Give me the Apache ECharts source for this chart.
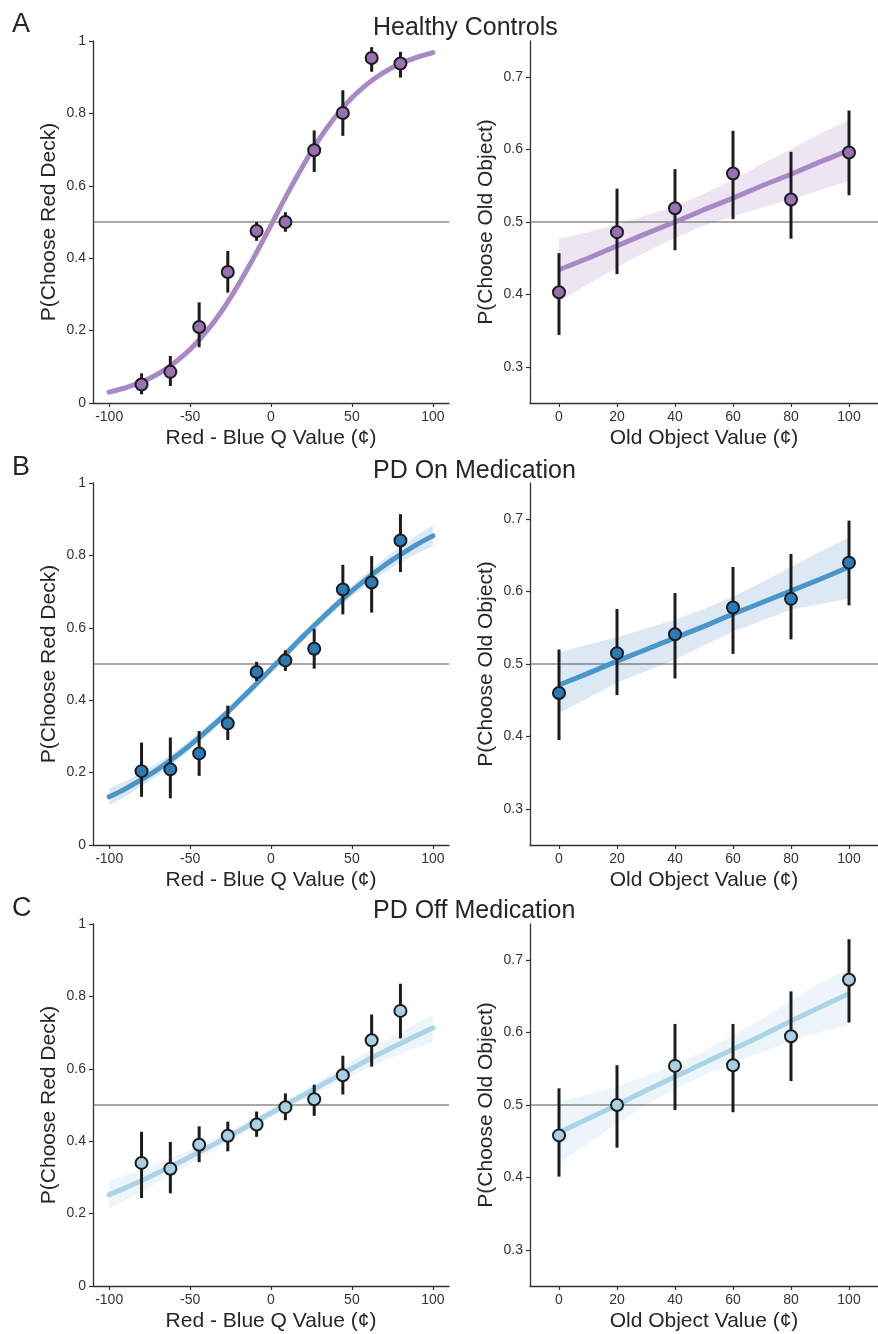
<!DOCTYPE html>
<html>
<head>
<meta charset="utf-8">
<script src="https://cdn.jsdelivr.net/npm/echarts@6/dist/echarts.min.js"></script>
<style>
html,body{margin:0;padding:0;background:#fff;}
#chart{width:878px;height:1334px;}
</style>
</head>
<body>
<div id="chart"></div>
<script>
// ---------- DATA ----------
const qBins = [-80, -62.2, -44.4, -26.7, -8.9, 8.9, 26.7, 44.4, 62.2, 80];
const curveQ = [-100,-90,-80,-70,-60,-50,-40,-30,-20,-10,0,10,20,30,40,50,60,70,80,90,100];
const oldVals = [0, 20, 40, 60, 80, 100];
const lineOld = [0,10,20,30,40,50,60,70,80,90,100];

const qTicks = [-100, -50, 0, 50, 100];
const oldTicks = [0, 20, 40, 60, 80, 100];
const pTicksOld = [0.3, 0.4, 0.5, 0.6, 0.7];
const refLevel = 0.5;

const panelTitles = ['Healthy Controls', 'PD On Medication', 'PD Off Medication'];
const panelLetters = ['A', 'B', 'C'];

// Healthy controls
const hcQMean = [0.051,0.086,0.210,0.362,0.475,0.500,0.698,0.801,0.953,0.938];
const hcQLo   = [0.024,0.047,0.154,0.305,0.448,0.473,0.638,0.738,0.915,0.899];
const hcQHi   = [0.082,0.130,0.278,0.420,0.500,0.527,0.753,0.864,0.983,0.970];
const hcQFit  = [0.030,0.042,0.058,0.080,0.110,0.148,0.197,0.257,0.328,0.407,0.491,0.577,0.657,0.730,0.792,0.843,0.883,0.914,0.938,0.955,0.968];
const hcQBandHi = [0.038,0.050,0.066,0.088,0.118,0.156,0.205,0.265,0.335,0.413,0.497,0.583,0.663,0.737,0.799,0.850,0.890,0.921,0.945,0.962,0.975];
const hcQBandLo = [0.023,0.035,0.051,0.072,0.102,0.140,0.189,0.249,0.321,0.401,0.485,0.571,0.651,0.723,0.785,0.836,0.876,0.907,0.931,0.948,0.961];
const hcOMean = [0.403,0.486,0.519,0.567,0.531,0.596];
const hcOLo   = [0.344,0.428,0.461,0.504,0.477,0.537];
const hcOHi   = [0.457,0.546,0.573,0.626,0.597,0.654];
const hcOFit  = [0.434,0.450,0.467,0.484,0.500,0.517,0.533,0.550,0.566,0.583,0.599];
const hcOBandHi = [0.477,0.486,0.497,0.509,0.522,0.539,0.558,0.580,0.601,0.622,0.641];
const hcOBandLo = [0.391,0.414,0.437,0.459,0.478,0.495,0.508,0.520,0.531,0.544,0.557];

// PD on medication
const onQMean = [0.204,0.209,0.253,0.336,0.478,0.510,0.542,0.706,0.725,0.841];
const onQLo   = [0.133,0.129,0.191,0.290,0.453,0.481,0.487,0.637,0.642,0.754];
const onQHi   = [0.283,0.297,0.315,0.385,0.506,0.538,0.597,0.774,0.798,0.914];
const onQFit  = [0.133,0.155,0.181,0.209,0.241,0.276,0.314,0.354,0.397,0.441,0.486,0.532,0.577,0.620,0.662,0.702,0.738,0.772,0.802,0.830,0.854];
const onQBandHi = [0.157,0.176,0.200,0.226,0.256,0.290,0.327,0.366,0.408,0.451,0.496,0.542,0.588,0.632,0.675,0.717,0.755,0.791,0.824,0.855,0.883];
const onQBandLo = [0.109,0.134,0.162,0.192,0.226,0.262,0.301,0.342,0.386,0.431,0.476,0.522,0.566,0.608,0.649,0.687,0.721,0.753,0.780,0.805,0.825];
const onOMean = [0.460,0.515,0.541,0.578,0.590,0.640];
const onOLo   = [0.395,0.457,0.480,0.514,0.534,0.581];
const onOHi   = [0.520,0.576,0.598,0.634,0.652,0.698];
const onOFit  = [0.471,0.487,0.504,0.520,0.536,0.552,0.569,0.585,0.601,0.617,0.634];
const onOBandHi = [0.516,0.527,0.537,0.549,0.561,0.576,0.593,0.613,0.634,0.655,0.675];
const onOBandLo = [0.432,0.453,0.474,0.490,0.506,0.526,0.545,0.560,0.575,0.583,0.590];

// PD off medication
const offQMean = [0.340,0.324,0.390,0.415,0.446,0.494,0.516,0.582,0.679,0.760];
const offQLo   = [0.243,0.256,0.342,0.372,0.412,0.458,0.470,0.529,0.606,0.684];
const offQHi   = [0.426,0.398,0.441,0.454,0.482,0.532,0.556,0.636,0.750,0.835];
const offQFit  = [0.252,0.271,0.291,0.312,0.334,0.357,0.380,0.404,0.428,0.453,0.478,0.503,0.527,0.552,0.577,0.601,0.625,0.648,0.670,0.692,0.713];
const offQBandHi = [0.290,0.305,0.321,0.338,0.357,0.377,0.397,0.419,0.441,0.465,0.490,0.515,0.540,0.567,0.594,0.621,0.648,0.674,0.700,0.726,0.751];
const offQBandLo = [0.214,0.237,0.261,0.286,0.311,0.337,0.363,0.389,0.415,0.441,0.466,0.491,0.514,0.537,0.560,0.581,0.602,0.622,0.640,0.658,0.675];
const offOMean = [0.458,0.500,0.554,0.555,0.595,0.673];
const offOLo   = [0.401,0.441,0.493,0.490,0.533,0.614];
const offOHi   = [0.523,0.555,0.612,0.612,0.657,0.729];
const offOFit  = [0.462,0.481,0.500,0.520,0.539,0.558,0.577,0.596,0.616,0.635,0.654];
const offOBandHi = [0.505,0.515,0.526,0.540,0.556,0.575,0.596,0.619,0.644,0.669,0.688];
const offOBandLo = [0.419,0.447,0.474,0.500,0.522,0.541,0.558,0.573,0.588,0.601,0.610];

// ---------- STYLE / LAYOUT ----------
const FONT = "'Liberation Sans', Arial, Helvetica, sans-serif";
const TXT = '#262626';
const AX = '#333333';
const rowTops = [41, 483, 924];
const plotH = 362;
const leftX = 93, rightX = 530, plotW = 356;
const qMin = -110, qMax = 110, oMin = -10, oMax = 110;
const pMinOld = 0.25, pMaxOld = 0.75;
const tickFont = 14;
const nameFont = 21;

const groups = [
  {marker:'#9a70b3', line:'#a889c5', band:'#ede5f2',
   qMean:hcQMean, qLo:hcQLo, qHi:hcQHi, qFit:hcQFit, qBHi:hcQBandHi, qBLo:hcQBandLo,
   oMean:hcOMean, oLo:hcOLo, oHi:hcOHi, oFit:hcOFit, oBHi:hcOBandHi, oBLo:hcOBandLo},
  {marker:'#2a7ab8', line:'#4a95c9', band:'#dce9f4',
   qMean:onQMean, qLo:onQLo, qHi:onQHi, qFit:onQFit, qBHi:onQBandHi, qBLo:onQBandLo,
   oMean:onOMean, oLo:onOLo, oHi:onOHi, oFit:onOFit, oBHi:onOBandHi, oBLo:onOBandLo},
  {marker:'#a7d0e5', line:'#abd3e7', band:'#edf5fa',
   qMean:offQMean, qLo:offQLo, qHi:offQHi, qFit:offQFit, qBHi:offQBandHi, qBLo:offQBandLo,
   oMean:offOMean, oLo:offOLo, oHi:offOHi, oFit:offOFit, oBHi:offOBandHi, oBLo:offOBandLo}
];

const grids = [], xAxes = [], yAxes = [], series = [], graphics = [];

function axisBase() {
  return {
    axisLine: {show: true, onZero: false, lineStyle: {color: AX, width: 1.3}},
    axisTick: {show: true, length: 4, lineStyle: {color: AX, width: 1.2}},
    splitLine: {show: false},
    axisLabel: {color: '#333', fontSize: tickFont, fontFamily: FONT},
    nameTextStyle: {color: TXT, fontSize: nameFont, fontFamily: FONT}
  };
}

function bandSeries(idx, xs, lo, hi, color) {
  return {
    type: 'custom', xAxisIndex: idx, yAxisIndex: idx, z: 1, silent: true,
    data: xs.map((x, i) => [x, lo[i], hi[i]]),
    encode: {x: 0, y: [1, 2]},
    renderItem: function (params, api) {
      if (params.dataIndex !== 0) return null;
      const pts = [];
      for (let i = 0; i < xs.length; i++) pts.push(api.coord([xs[i], hi[i]]));
      for (let i = xs.length - 1; i >= 0; i--) pts.push(api.coord([xs[i], lo[i]]));
      return {type: 'polygon', shape: {points: pts}, style: {fill: color}};
    }
  };
}

function errSeries(idx, xs, lo, hi) {
  return {
    type: 'custom', xAxisIndex: idx, yAxisIndex: idx, z: 4, silent: true,
    data: xs.map((x, i) => [x, lo[i], hi[i]]),
    encode: {x: 0, y: [1, 2]},
    renderItem: function (params, api) {
      const a = api.coord([api.value(0), api.value(1)]);
      const b = api.coord([api.value(0), api.value(2)]);
      return {type: 'line', shape: {x1: a[0], y1: a[1], x2: b[0], y2: b[1]},
              style: {stroke: '#1c1c1c', lineWidth: 3}};
    }
  };
}

function refSeries(idx, xmin, xmax) {
  return {
    type: 'line', xAxisIndex: idx, yAxisIndex: idx, z: 2, silent: true,
    data: [[xmin, refLevel], [xmax, refLevel]], showSymbol: false, symbol: 'none',
    lineStyle: {color: '#555', width: 1.2}
  };
}

groups.forEach((g, r) => {
  const top = rowTops[r];
  const li = r * 2, ri = r * 2 + 1;
  grids.push({left: leftX, top: top, width: plotW, height: plotH});
  grids.push({left: rightX, top: top, width: plotW, height: plotH});

  xAxes.push(Object.assign(axisBase(), {
    gridIndex: li, type: 'value', min: qMin, max: qMax,
    name: 'Red - Blue Q Value (\u00a2)', nameLocation: 'middle', nameGap: 25,
    axisTick: {show: true, length: 4, customValues: qTicks, lineStyle: {color: AX, width: 1.2}},
    axisLabel: {color: '#333', fontSize: tickFont, fontFamily: FONT, margin: 7, customValues: qTicks}
  }));
  yAxes.push(Object.assign(axisBase(), {
    gridIndex: li, type: 'value', min: 0, max: 1, interval: 0.2,
    name: 'P(Choose Red Deck)', nameLocation: 'middle', nameGap: 33,
    axisLabel: {color: '#333', fontSize: tickFont, fontFamily: FONT, margin: 7}
  }));
  xAxes.push(Object.assign(axisBase(), {
    gridIndex: ri, type: 'value', min: oMin, max: oMax,
    name: 'Old Object Value (\u00a2)', nameLocation: 'middle', nameGap: 25,
    axisTick: {show: true, length: 4, customValues: oldTicks, lineStyle: {color: AX, width: 1.2}},
    axisLabel: {color: '#333', fontSize: tickFont, fontFamily: FONT, margin: 7, customValues: oldTicks}
  }));
  yAxes.push(Object.assign(axisBase(), {
    gridIndex: ri, type: 'value', min: pMinOld, max: pMaxOld,
    name: 'P(Choose Old Object)', nameLocation: 'middle', nameGap: 33,
    axisTick: {show: true, length: 4, customValues: pTicksOld, lineStyle: {color: AX, width: 1.2}},
    axisLabel: {color: '#333', fontSize: tickFont, fontFamily: FONT, margin: 7, customValues: pTicksOld}
  }));

  series.push(bandSeries(li, curveQ, g.qBLo, g.qBHi, g.band));
  series.push(refSeries(li, qMin, qMax));
  series.push({type: 'line', xAxisIndex: li, yAxisIndex: li, z: 3, silent: true,
    data: curveQ.map((x, i) => [x, g.qFit[i]]), showSymbol: false, symbol: 'none', smooth: 0.3,
    lineStyle: {color: g.line, width: 5, cap: 'round'}});
  series.push(errSeries(li, qBins, g.qLo, g.qHi));
  series.push({type: 'scatter', xAxisIndex: li, yAxisIndex: li, z: 5, silent: true,
    data: qBins.map((x, i) => [x, g.qMean[i]]), symbol: 'circle', symbolSize: 12,
    itemStyle: {color: g.marker, borderColor: '#1c1c1c', borderWidth: 2, opacity: 1}});

  series.push(bandSeries(ri, lineOld, g.oBLo, g.oBHi, g.band));
  series.push(refSeries(ri, oMin, oMax));
  series.push({type: 'line', xAxisIndex: ri, yAxisIndex: ri, z: 3, silent: true,
    data: lineOld.map((x, i) => [x, g.oFit[i]]), showSymbol: false, symbol: 'none',
    lineStyle: {color: g.line, width: 5}});
  series.push(errSeries(ri, oldVals, g.oLo, g.oHi));
  series.push({type: 'scatter', xAxisIndex: ri, yAxisIndex: ri, z: 5, silent: true,
    data: oldVals.map((x, i) => [x, g.oMean[i]]), symbol: 'circle', symbolSize: 12,
    itemStyle: {color: g.marker, borderColor: '#1c1c1c', borderWidth: 2, opacity: 1}});
});

const titleTop = [16, 459, 899];
const letterTop = [11, 454, 895];
panelTitles.forEach((t, r) => {
  graphics.push({type: 'text', left: 373, top: titleTop[r],
    style: {text: t, fill: TXT, font: '25px ' + FONT}});
  graphics.push({type: 'text', left: 12, top: letterTop[r],
    style: {text: panelLetters[r], fill: TXT, font: '27px ' + FONT}});
});

const chart = echarts.init(document.getElementById('chart'), null, {renderer: 'canvas'});
chart.setOption({
  animation: false,
  backgroundColor: '#ffffff',
  textStyle: {fontFamily: FONT},
  grid: grids, xAxis: xAxes, yAxis: yAxes, series: series,
  graphic: graphics
});
</script>
</body>
</html>
